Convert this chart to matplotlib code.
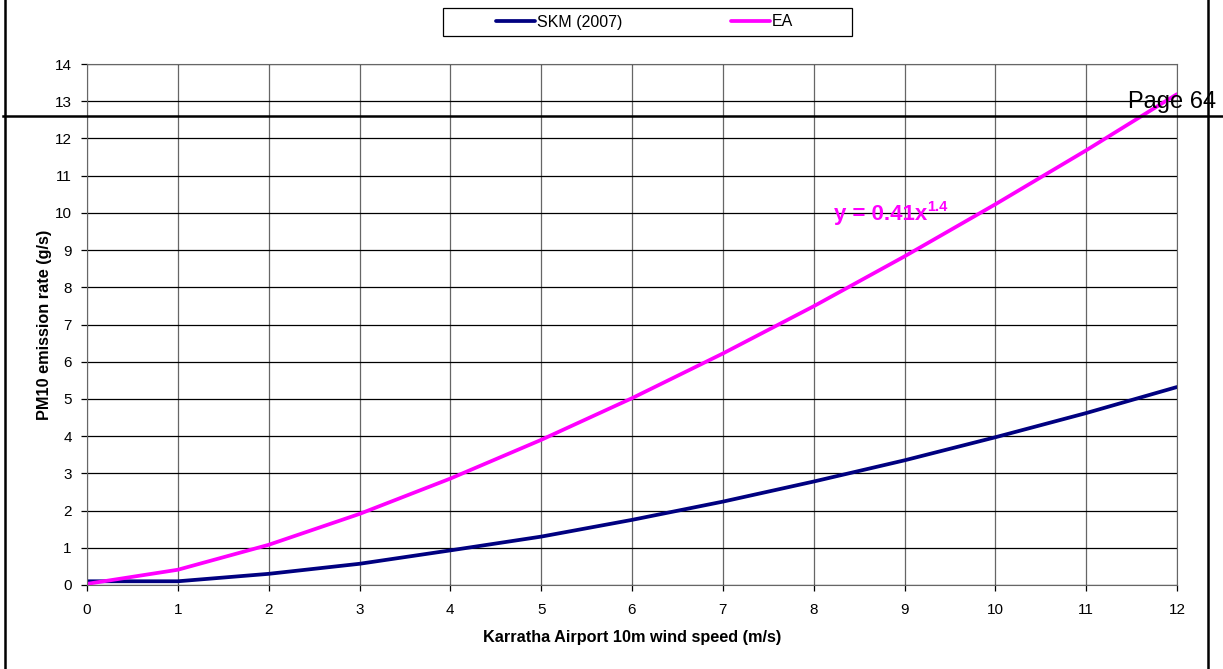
import matplotlib.pyplot as plt
from matplotlib.lines import Line2D
from matplotlib.patches import Rectangle

plt.rcParams['font.family'] = ['Liberation Sans', 'DejaVu Sans']

wind_speed = [0, 1, 2, 3, 4, 5, 6, 7, 8, 9, 10, 11, 12]
skm_2007 = [0.1, 0.1, 0.3, 0.57, 0.93, 1.3, 1.75, 2.24, 2.78, 3.35, 3.97, 4.62, 5.32]
ea = [0.03, 0.41, 1.08, 1.91, 2.86, 3.9, 5.02, 6.22, 7.49, 8.83, 10.23, 11.68, 13.19]

W, H = 1223, 669
fig = plt.figure(figsize=(W / 100, H / 100), dpi=100)
ax = fig.add_axes([87 / W, 1 - 585 / H, 1090 / W, 521 / H])

ax.plot(wind_speed, skm_2007, color='#000080', lw=2.7, label='SKM (2007)', solid_capstyle='round')
ax.plot(wind_speed, ea, color='#FF00FF', lw=2.7, label='EA', solid_capstyle='round')

ax.set_xlim(0, 12)
ax.set_ylim(0, 14)
ax.set_xticks(range(0, 13))
ax.set_yticks(range(0, 15))
ax.grid(axis='x', color='#666666', lw=0.9)
ax.grid(axis='y', color='black', lw=0.9)
ax.tick_params(direction='out', length=4, width=0.9, labelsize=11, colors='black')
ax.tick_params(axis='x', pad=9)
ax.tick_params(axis='y', pad=7)
for s in ax.spines.values():
    s.set_color('#666666')

ax.set_xlabel('Karratha Airport 10m wind speed (m/s)', fontsize=11.7, fontweight='bold', labelpad=9)
ax.set_ylabel('PM10 emission rate (g/s)', fontsize=11.7, fontweight='bold', labelpad=2)

eq = ax.text(8.22, 9.95, 'y = 0.41x', color='#FF00FF', fontsize=16,
             fontweight='bold', va='center', ha='left')
ax.annotate('1.4', xy=(1, 1), xycoords=eq, xytext=(0.5, 3), textcoords='offset points',
            color='#FF00FF', fontsize=10.5, fontweight='bold', va='top', ha='left')

# legend box at top
fig.add_artist(Rectangle((443 / W, 1 - 36 / H), 409 / W, 28 / H, transform=fig.transFigure,
                         facecolor='white', edgecolor='black', lw=0.9))
leg = fig.legend(loc='center left', bbox_to_anchor=(496 / W, 1 - 22 / H), ncol=2,
                 frameon=False, fontsize=11.5, borderpad=0, borderaxespad=0,
                 handlelength=2.45, handletextpad=0.1, columnspacing=6.8)

# page frame and footer line
fig.add_artist(Line2D([5 / W, 5 / W], [0, 1], color='black', lw=1.8))
fig.add_artist(Line2D([1208 / W, 1208 / W], [0, 1], color='black', lw=1.8))
fig.add_artist(Line2D([3 / W, 1], [1 - 116 / H, 1 - 116 / H], color='black', lw=1.8))
fig.text(1216 / W, 1 - 108 / H, 'Page 64', fontsize=17, ha='right', va='baseline')

fig.savefig('out.png', dpi=100)
